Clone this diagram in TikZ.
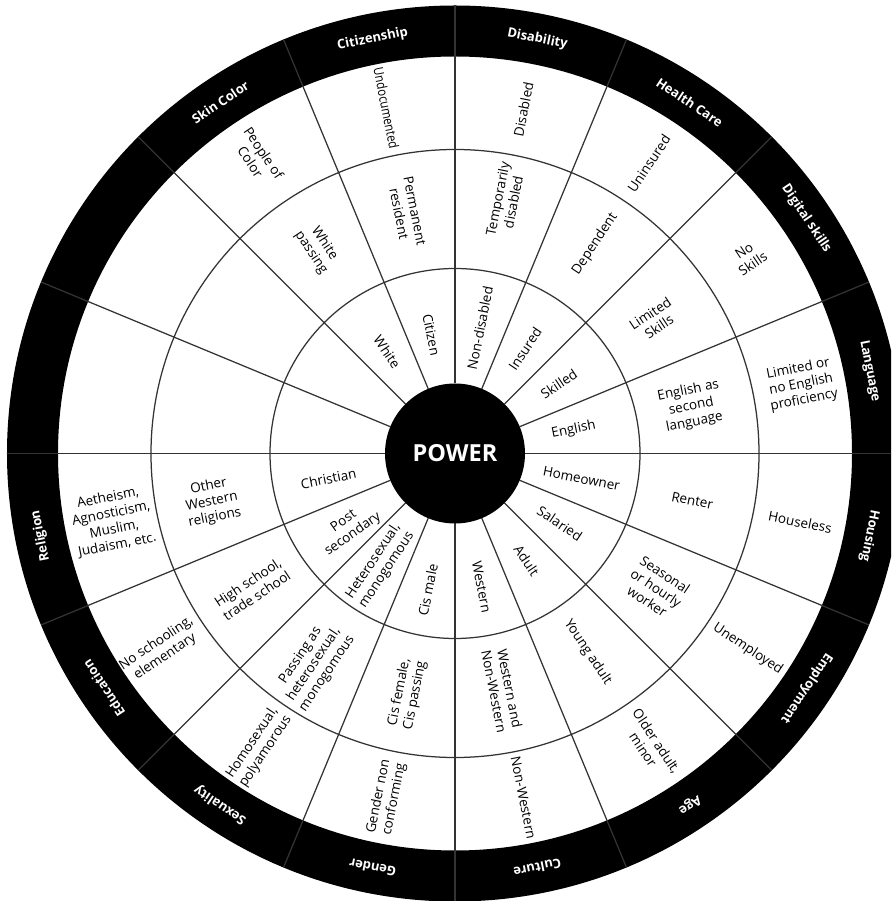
\documentclass[tikz,border=0pt]{standalone}
\usepackage{fontspec}
\usepackage{graphicx}
\setmainfont{Open Sans}
\begin{document}
\begin{tikzpicture}[x=1pt,y=1pt,
  seg/.style={draw=black!80, line width=1.25pt},
  lab/.style={font=\fontsize{13.5}{16}\selectfont, align=center, text=black, inner sep=0pt},
  cat/.style={font=\bfseries\fontsize{13}{16}\selectfont, text=white, inner sep=0pt},
  hub/.style={font=\bfseries\fontsize{23.5}{26}\selectfont, text=white, inner sep=0pt}
]
\useasboundingbox (-455,-447.5) rectangle (436,453.5);
\clip (-455,-447.5) rectangle (436,453.5);
\fill[white] (-455,-447.5) rectangle (436,453.5);
\fill[black, even odd rule] (0,0) circle (448) (0,0) circle (397);
\draw[seg] (0,0) circle (185) (0,0) circle (304);
\foreach \a in {0,22.5,...,337.5} \draw[seg] (\a:70) -- (\a:448);
\fill[black] (0,0) circle (70);
\node[hub] (power) at (0,0) {POWER};
% white-ring labels
\foreach \n/\a/\r/\t in {
  english/11.25/121/{English},
  homeowner/348.75/129/{Homeowner},
  salaried/326.25/126/{Salaried},
  adult/303.75/129/{Adult},
  western/281.25/136/{Western},
  cismale/258.75/139/{Cis male},
  hetero/236.25/135/{Heterosexual,\\monogomous},
  postsec/215/130/{Post\\secondary},
  christian/191.25/129/{Christian},
  white/123.75/122/{White},
  citizen/101.25/121/{Citizen},
  nondis/78.75/128/{Non-disabled},
  insured/56.25/126/{Insured},
  skilled/33.75/125/{Skilled},
  esl/11.25/241/{English as\\second\\language},
  limsk/33.75/240/{Limited\\Skills},
  dependent/56.25/252/{Dependent},
  tempdis/78.75/258/{Temporarily\\disabled},
  permres/101.25/246/{Permanent\\resident},
  whitepass/123.75/247/{White\\passing},
  otherwest/191.25/248/{Other\\Western\\religions},
  highsch/213.75/244/{High school,\\trade school},
  passing/236.25/254/{Passing as\\heterosexual,\\monogomous},
  cisfem/258.75/245/{Cis female,\\Cis passing},
  westnon/281.25/241/{Western and\\Non-Western},
  young/303.75/239/{Young adult},
  seasonal/326.25/242/{Seasonal\\or hourly\\worker},
  renter/348.75/242/{Renter},
  limeng/11.25/353/{Limited or\\no English\\proficiency},
  noskills/33.75/353/{No\\Skills},
  uninsured/56.25/349/{Uninsured},
  disabled/78.75/351/{Disabled},
  undoc/101.25/352/{\scalebox{0.84}[1]{Undocumented}},
  poc/123.75/356/{People of\\Color},
  aeth/191.25/349/{Aetheism,\\Agnosticism,\\Muslim,\\Judaism, etc.},
  nosch/213.75/354/{No schooling,\\elementary},
  homo/236.25/353/{Homosexual,\\polyamorous},
  gnc/258.75/351/{Gender non\\conforming},
  nonwest/281.25/351/{Non-Western},
  older/303.75/351/{Older adult,\\minor},
  unemp/326.25/352/{Unemployed},
  houseless/348.75/352/{Houseless}}
{
  \pgfmathsetmacro\rot{cos(\a)>0 ? \a : \a-180}
  \node[lab, rotate=\rot] (\n) at (\a:\r) {\t};
}
% category labels in the black ring
\foreach \n/\a/\t in {
  language/11.25/{Language},
  digital/33.75/{Digital skills},
  health/56.25/{Health Care},
  disab/78.75/{Disability},
  citizenship/101.25/{Citizenship},
  skin/123.75/{Skin Color},
  religion/191.25/{Religion},
  education/213.75/{Education},
  sexuality/236.25/{Sexuality},
  gender/258.75/{Gender},
  culture/281.25/{Culture},
  age/303.75/{Age},
  employment/326.25/{Employment},
  housing/348.75/{Housing}}
{
  \pgfmathsetmacro\rot{\a-90}
  \node[cat, rotate=\rot] (\n) at (\a:422.5) {\t};
}
\end{tikzpicture}
\end{document}
